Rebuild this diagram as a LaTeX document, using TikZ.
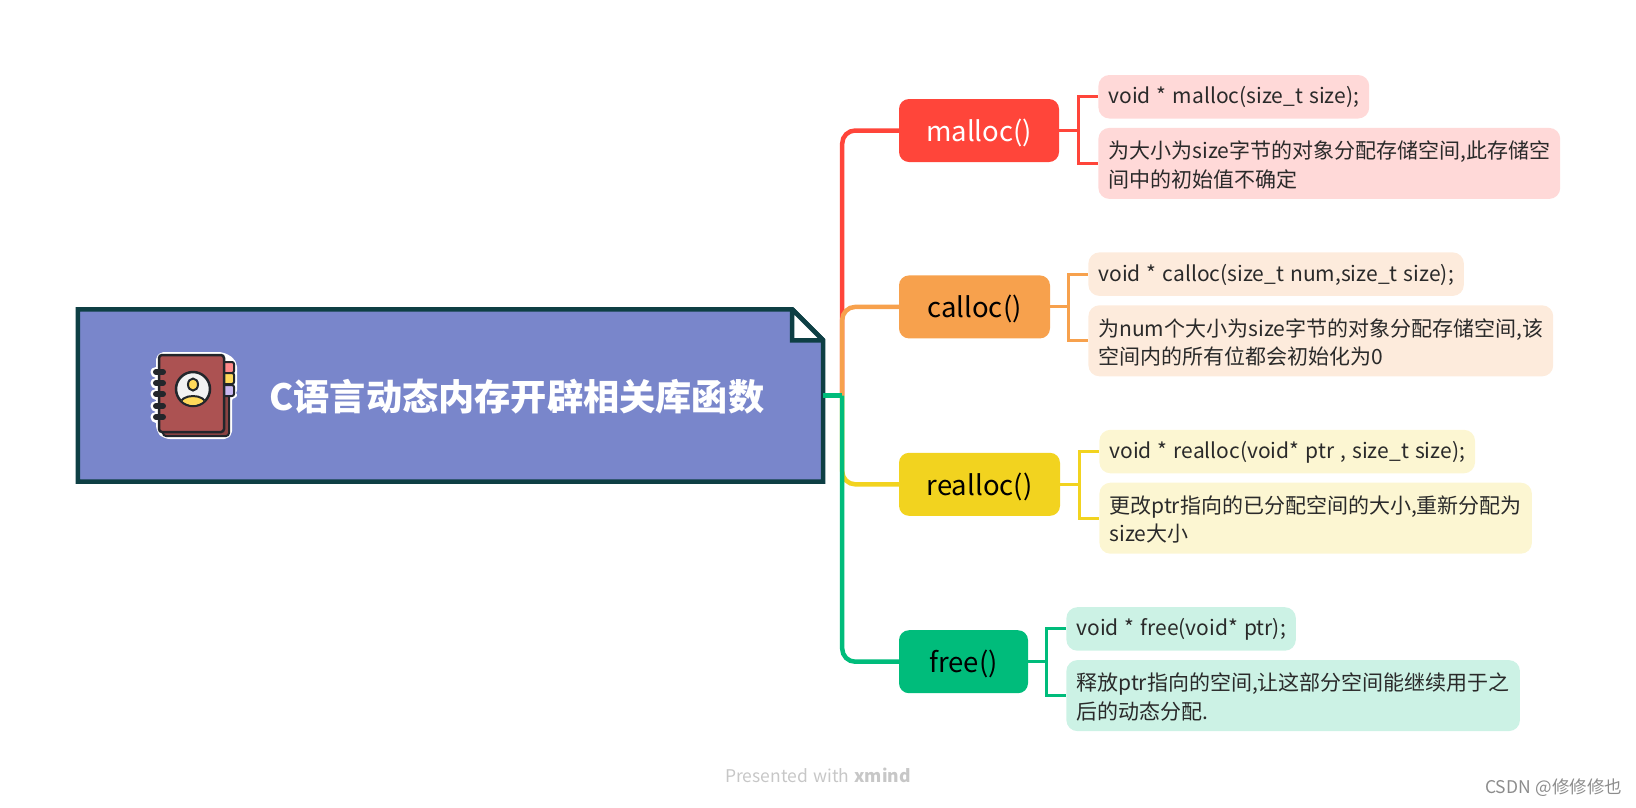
\documentclass[tikz,border=0pt]{standalone}
\usepackage{fontspec}
\setmainfont[WordSpace=1.3]{Noto Sans CJK SC}
\usetikzlibrary{positioning}
\definecolor{rootfill}{HTML}{7986CB}
\definecolor{rootline}{HTML}{0E3F44}
\definecolor{mallocred}{HTML}{FF453A}
\definecolor{callocorange}{HTML}{F7A14D}
\definecolor{reallocyellow}{HTML}{F2D31F}
\definecolor{freegreen}{HTML}{00BC7B}
\definecolor{mallocpale}{HTML}{FFD9D8}
\definecolor{callocpale}{HTML}{FDEBDC}
\definecolor{reallocpale}{HTML}{FCF6D2}
\definecolor{freepale}{HTML}{CCF2E5}
\definecolor{bookred}{HTML}{AC5252}
\definecolor{bookdark}{HTML}{22262B}
\definecolor{bookyellow}{HTML}{FFD95A}
\definecolor{leaftext}{HTML}{2A2A2A}
\tikzstyle{block} = [rectangle, rounded corners=10pt, inner sep=0pt]
\tikzstyle{branch} = [block, minimum height=63pt, text height=23pt, text depth=1pt, font=\fontsize{27.5}{30}\selectfont]
\tikzstyle{sig} = [block, rounded corners=11pt, anchor=north west, minimum height=43.5pt, inner xsep=10pt, text=leaftext, text height=20pt, text depth=6pt, font=\fontsize{21}{28}\selectfont]
\tikzstyle{note} = [block, rounded corners=11pt, anchor=north west, minimum height=71pt, inner xsep=10pt, text=leaftext, align=left, text height=49pt, text depth=1.5pt, font=\fontsize{21}{28.5}\selectfont]
\tikzstyle{sheet} = [line width=4.5pt, line join=miter, miter limit=1.5, draw=rootline]
\tikzstyle{trunk} = [line width=4.5pt, rounded corners=13pt]
\tikzstyle{twig} = [line width=3pt]
\tikzstyle{tiny} = [font=\fontsize{17.5}{20}\selectfont]

\begin{document}
\begin{tikzpicture}[x=1pt, y=-1pt]
    \useasboundingbox (0,0) rectangle (1636,807);

    % Sheet with folded corner.
    \node (root) [minimum width=745pt, minimum height=172pt, inner sep=0pt] at (450.5,395.5) {};
    \node (stem) [coordinate, right=19pt of root] {};
    \node (fold) [coordinate, left=31pt of root.north east] {};
    \node (crease) [coordinate, below=31pt of fold] {};
    \node (tip) [coordinate, right=31pt of crease] {};
    \draw [sheet, fill=rootfill] (root.north west) -- (fold) -- (tip) -- (root.south east) -- (root.south west) -- cycle;
    \draw [sheet, fill=white] (fold) -- (tip) -- (crease) -- cycle;
    \node (title) [text=white, font=\fontsize{36.2}{40}\selectfont\bfseries] at (517,397) {C语言动态内存开辟相关库函数};

    \node (malloc) [branch, fill=mallocred, text=white, minimum width=160pt] at (979,130.5) {malloc()};
    \node (calloc) [branch, fill=callocorange, minimum width=151pt, below=113pt of malloc.south west, anchor=north west] {calloc()};
    \node (realloc) [branch, fill=reallocyellow, minimum width=161pt, below=114pt of calloc.south west, anchor=north west] {realloc()};
    \node (free) [branch, fill=freegreen, minimum width=129pt, below=114pt of realloc.south west, anchor=north west] {free()};

    % Signatures and descriptions.
    \node (malloc sig) [sig, fill=mallocpale, right=39pt of malloc.north east, anchor=north west, yshift=24pt] {void * malloc(size\_t size);};
    \node (malloc note) [note, fill=mallocpale, below=9pt of malloc sig.south west, anchor=north west] {为大小为size字节的对象分配存储空间,此存储空\\间中的初始值不确定};
    \node (calloc sig) [sig, fill=callocpale, right=38pt of calloc.north east, anchor=north west, yshift=23pt] {void * calloc(size\_t num,size\_t size);};
    \node (calloc note) [note, fill=callocpale, below=9pt of calloc sig.south west, anchor=north west] {为num个大小为size字节的对象分配存储空间,该\\空间内的所有位都会初始化为0};
    \node (realloc sig) [sig, fill=reallocpale, right=39pt of realloc.north east, anchor=north west, yshift=23pt] {void * realloc(void* ptr , size\_t size);};
    \node (realloc note) [note, fill=reallocpale, below=9pt of realloc sig.south west, anchor=north west] {更改ptr指向的已分配空间的大小,重新分配为\\size大小};
    \node (free sig) [sig, fill=freepale, right=38pt of free.north east, anchor=north west, yshift=23pt] {void * free(void* ptr);};
    \node (free note) [note, fill=freepale, below=9pt of free sig.south west, anchor=north west] {释放ptr指向的空间,让这部分空间能继续用于之\\后的动态分配.};

    \node (brand) [tiny, text=black!22] at (818,775) {Presented with \textbf{xmind}};
    \node (mark) [tiny, text=black!45, anchor=east] at (1626,788) {CSDN @修修修也};

    % Book icon.
    \draw [white, line width=6pt, line join=round, fill=white, rounded corners=5pt] (159,355) -- (223,355) -- (234,362) -- (234,395) -- (229,395) -- (229,436) -- (165,436) -- (159,430) -- cycle;
    \foreach \y in {372, 383, 394, 406, 417} {
        \draw [white, line width=11pt, line cap=round] (156,\y) -- (163,\y);
    }
    \draw [bookdark, line width=2pt, fill=bookred!80!black, rounded corners=3pt] (163,365) rectangle (229,436);
    \foreach \y/\c in {362/FF8A8A, 373/FFD95A, 385/C9B8F0} {
        \definecolor{tabfill}{HTML}{\c}
        \draw [bookdark, line width=2pt, fill=tabfill, rounded corners=2pt] (220,\y) rectangle (234,\y+11);
    }
    \draw [bookdark, line width=2.5pt, fill=bookred, rounded corners=3pt] (159,355) rectangle (224,432);
    \foreach \y in {372, 383, 394, 406, 417} {
        \draw [bookdark, line width=6pt, line cap=round] (156,\y) -- (163,\y);
    }
    \draw [bookdark, line width=2.5pt, fill=white!95!black] (193,389) circle (17);
    \begin{scope}
        \clip (193,389) circle (16);
        \draw [bookdark, line width=2pt, fill=bookyellow] (193,404) ellipse [x radius=13, y radius=8];
    \end{scope}
    \draw [bookdark, line width=2pt, fill=bookyellow] (193,384.5) ellipse [x radius=5, y radius=6];

    % Trunk, last colour on top.
    \foreach \n/\c in {malloc/mallocred, realloc/reallocyellow, calloc/callocorange, free/freegreen} {
        \draw [trunk, \c] (stem) |- (\n);
    }
    \draw [trunk, freegreen] (root) -- (stem);

    % Twigs.
    \foreach \n/\c in {malloc/mallocred, calloc/callocorange, realloc/reallocyellow, free/freegreen} {
        \node (\n fork) [coordinate, left=20pt of \n\space sig.west |- \n.east] {};
        \draw [twig, \c] (\n) -- (\n fork) |- (\n\space sig);
        \draw [twig, \c] (\n fork) |- (\n\space note);
    }
\end{tikzpicture}
\end{document}
